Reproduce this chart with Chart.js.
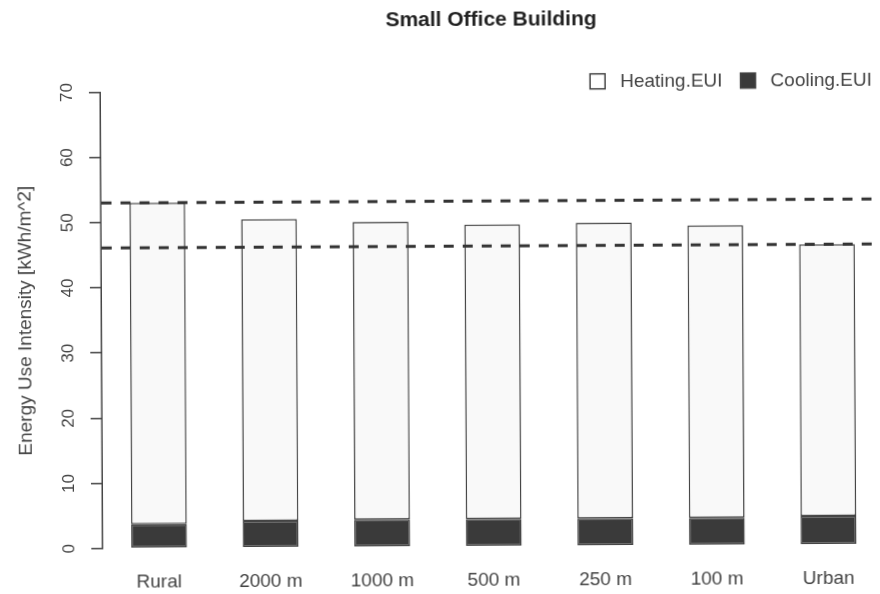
<!DOCTYPE html>
<html>
<head>
<meta charset="utf-8">
<script src="https://cdn.jsdelivr.net/npm/chart.js@4.4.1/dist/chart.umd.min.js"></script>
<style>
  html, body { margin: 0; padding: 0; background: #fff; overflow: hidden; width: 880px; height: 594px; }
  #wrap { position: absolute; left: 0; top: 0; width: 890px; height: 594px;
          transform: rotate(-0.3deg); transform-origin: 440px 297px; }
  canvas { display: block; }
</style>
</head>
<body>
<div id="wrap"><canvas id="c" width="890" height="594"></canvas></div>
<script>
// Energy use intensity per location, kWh/m^2
const categories = ['Rural', '2000 m', '1000 m', '500 m', '250 m', '100 m', 'Urban'];
const heatingEUI = [49.3, 46.3, 45.7, 45.2, 45.4, 44.9, 41.7];
const coolingEUI = [3.7, 4.1, 4.2, 4.2, 4.2, 4.2, 4.4];
const yTicks = [0, 10, 20, 30, 40, 50, 60, 70];
const seriesNames = ['Heating.EUI', 'Cooling.EUI'];

// dashed reference levels: total EUI of the rural and the urban case
const totalEUI = heatingEUI.map((h, i) => h + coolingEUI[i]);
const refLevels = [totalEUI[0], totalEUI[totalEUI.length - 1]];

const INK = '#444';
const HEAT_FILL = '#f9f9f9';
const COOL_FILL = '#3a3a3a';

Chart.defaults.font.family = "'Liberation Sans', Arial, Helvetica, sans-serif";
Chart.defaults.color = INK;

// y axis line drawn only over the tick range (0..70)
const axisLinePlugin = {
  id: 'axisLine',
  afterDraw(chart) {
    const y = chart.scales.y, ctx = chart.ctx;
    const x = chart.chartArea.left - 0.75;
    ctx.save();
    ctx.strokeStyle = INK;
    ctx.lineWidth = 1.5;
    ctx.beginPath();
    ctx.moveTo(x, y.getPixelForValue(yTicks[0]));
    ctx.lineTo(x, y.getPixelForValue(yTicks[yTicks.length - 1]));
    ctx.stroke();
    ctx.restore();
  }
};

// horizontal dashed lines across the plot
const refLinePlugin = {
  id: 'refLines',
  afterDatasetsDraw(chart) {
    const y = chart.scales.y, ctx = chart.ctx, a = chart.chartArea;
    ctx.save();
    ctx.strokeStyle = '#333';
    ctx.lineWidth = 3;
    ctx.setLineDash([10, 9]);
    refLevels.forEach(v => {
      const py = y.getPixelForValue(v);
      ctx.beginPath();
      ctx.moveTo(a.left, py);
      ctx.lineTo(a.right + 10, py);
      ctx.stroke();
    });
    ctx.restore();
  }
};

// legend in the top-right corner of the plot
const cornerLegendPlugin = {
  id: 'cornerLegend',
  afterDraw(chart) {
    const ctx = chart.ctx, a = chart.chartArea;
    const box = 15, gapText = 15, gapItem = 18;
    const items = [
      { text: seriesNames[0], fill: '#ffffff' },
      { text: seriesNames[1], fill: COOL_FILL }
    ];
    ctx.save();
    ctx.font = "19px 'Liberation Sans', Arial, sans-serif";
    ctx.textBaseline = 'middle';
    ctx.textAlign = 'left';
    const widths = items.map(it => ctx.measureText(it.text).width);
    let total = 0;
    items.forEach((it, i) => { total += box + gapText + widths[i]; });
    total += gapItem * (items.length - 1);
    let x = a.right - 10 - total;
    const cy = a.top + 10;
    items.forEach((it, i) => {
      ctx.fillStyle = it.fill;
      ctx.fillRect(x, cy - box / 2, box, box);
      ctx.strokeStyle = INK;
      ctx.lineWidth = 1.5;
      ctx.strokeRect(x, cy - box / 2, box, box);
      ctx.fillStyle = INK;
      ctx.fillText(it.text, x + box + gapText, cy + 1);
      x += box + gapText + widths[i] + gapItem;
    });
    ctx.restore();
  }
};

new Chart(document.getElementById('c'), {
  type: 'bar',
  data: {
    labels: categories,
    datasets: [
      {
        label: seriesNames[1],
        data: coolingEUI,
        backgroundColor: COOL_FILL,
        borderColor: '#444',
        borderWidth: 1.5,
        borderSkipped: false,
        barPercentage: 0.5,
        categoryPercentage: 1.0
      },
      {
        label: seriesNames[0],
        data: heatingEUI,
        backgroundColor: HEAT_FILL,
        borderColor: '#444',
        borderWidth: 1.5,
        borderSkipped: false,
        barPercentage: 0.5,
        categoryPercentage: 1.0
      }
    ]
  },
  options: {
    responsive: false,
    animation: false,
    devicePixelRatio: 1,
    layout: { padding: { left: 0, right: 7, top: 0, bottom: 0 } },
    plugins: {
      legend: { display: false },
      tooltip: { enabled: false },
      title: {
        display: true,
        text: 'Small Office Building',
        fullSize: false,
        color: '#222',
        font: { size: 21, weight: 'bold', lineHeight: 1.2 },
        padding: { top: 8, bottom: 39 }
      }
    },
    scales: {
      x: {
        type: 'category',
        stacked: true,
        offset: true,
        grid: { display: false, drawTicks: false },
        border: { display: false },
        ticks: { color: INK, font: { size: 19 }, padding: 4, maxRotation: 0, minRotation: 0 },
        afterFit(scale) { scale.height = 29; }
      },
      y: {
        type: 'linear',
        stacked: true,
        min: -2.8,
        max: 72.8,
        afterBuildTicks(scale) { scale.ticks = yTicks.map(v => ({ value: v })); },
        grid: { display: true, drawOnChartArea: false, drawTicks: true, tickLength: 12, color: INK, lineWidth: 1.5 },
        border: { display: false },
        ticks: {
          color: INK,
          font: { size: 17 },
          minRotation: 90,
          maxRotation: 90,
          crossAlign: 'center',
          padding: 12,
          callback: v => String(v)
        },
        title: {
          display: true,
          text: 'Energy Use Intensity [kWh/m^2]',
          color: INK,
          font: { size: 19, lineHeight: 1.2 },
          padding: { top: 14, bottom: 0 }
        },
        afterFit(scale) { scale.width = 102; }
      }
    }
  },
  plugins: [axisLinePlugin, refLinePlugin, cornerLegendPlugin]
});
</script>
</body>
</html>
